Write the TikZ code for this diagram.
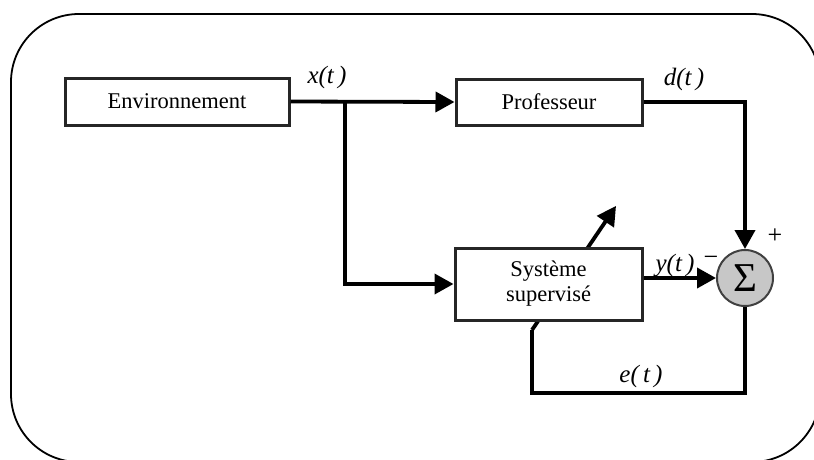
\documentclass[tikz,border=0pt]{standalone}
\usepackage{fontspec}
\setmainfont{Liberation Serif}
\usetikzlibrary{arrows.meta}
\begin{document}
\begin{tikzpicture}[x=1pt,y=-1pt,
  txt/.style={font=\fontsize{22.5}{25}\selectfont},
  lbl/.style={font=\fontsize{25}{27}\selectfont\itshape, inner sep=0pt},
  sign/.style={font=\fontsize{26}{26}\selectfont, inner sep=0pt},
  block/.style={draw=black!85, line width=3pt, fill=white, txt, align=center, inner sep=0pt},
  wire/.style={line width=3.8pt, line join=miter, black},
  arr/.style={wire, -{Triangle[length=19pt,width=20pt]}},
  frame/.style={line width=1.8pt, rounded corners=68pt}]
  \useasboundingbox (0,0) rectangle (814,459);
  \clip (0,0) rectangle (814,459);

  % outer rounded frame
  \draw[frame] (11,14) rectangle (820,462);

  % adaptation arrow, drawn first so the block hides its middle part
  \coordinate (adj1) at (532,330);
  \coordinate (adj2) at (616,206);
  \draw[arr] (adj1) -- (adj2);

  % blocks
  \node[block, minimum width=224pt, minimum height=47pt] (env) at (177,101.5) {Environnement};
  \node[block, minimum width=186pt, minimum height=46pt] (prof) at (549,102) {Professeur};
  \node[block, minimum width=187pt, minimum height=72pt] (sys) at (548.5,284) {Système\\supervisé};
  \node[circle, draw=black!75, line width=2pt, fill=black!22, minimum size=56pt, inner sep=0pt,
        font=\fontsize{41}{41}\selectfont] (sum) at (745,278) {Σ};

  % connections
  \coordinate (br) at (345,101.5);
  \coordinate (fbc) at (532,393);
  \draw[arr] (env.east) -- (prof.west);
  \draw[arr] (br) |- (sys.west);
  \draw[arr] (prof.east) -| (sum.north);
  \draw[arr] (sum.west -| sys.east) -- (sum.west);
  \draw[wire] (sum.south) |- (fbc) -- (adj1);

  % signal labels
  \node[lbl] (lx) at (327,77) {x(t\,)};
  \node[lbl] (ld) at (684,79) {d(t\,)};
  \node[lbl] (ly) at (675,266) {y(t\,)};
  \node[lbl] (le) at (641,376) {e(\,t\,)};
  \node[sign] (lminus) at (711,261) {−};
  \node[sign] (lplus) at (775,236) {+};
\end{tikzpicture}
\end{document}
